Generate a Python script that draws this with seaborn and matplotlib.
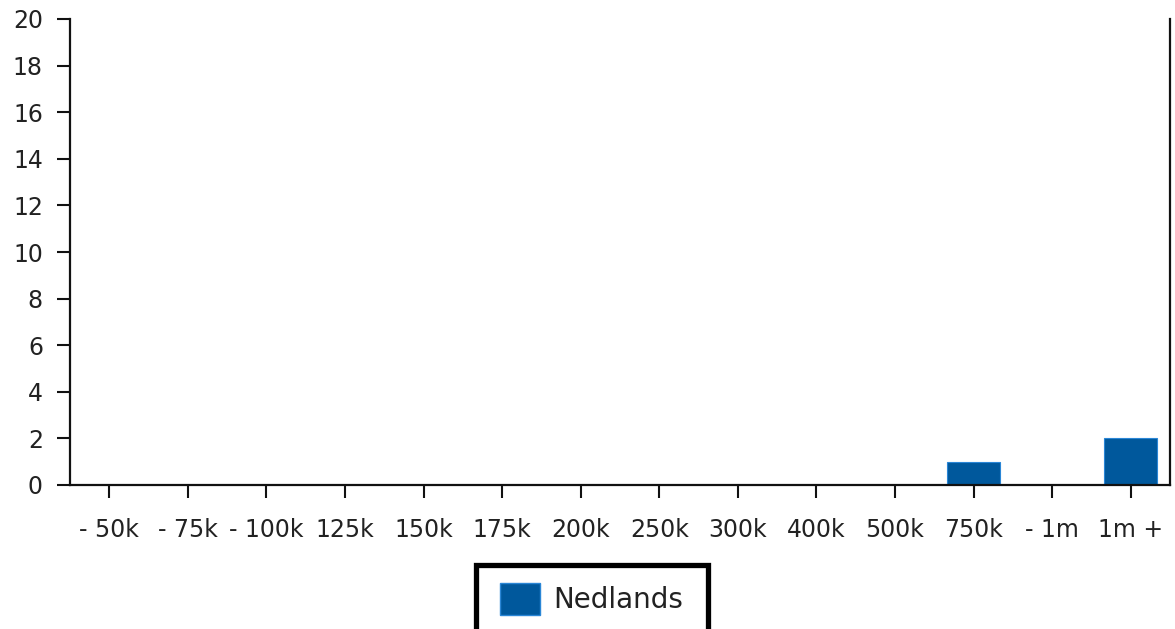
import matplotlib
matplotlib.use("Agg")
import matplotlib.pyplot as plt
import seaborn as sns
import pandas as pd
from matplotlib.patches import Patch, Rectangle

categories = ["- 50k", "- 75k", "- 100k", "125k", "150k", "175k", "200k",
              "250k", "300k", "400k", "500k", "750k", "- 1m", "1m +"]
values = [0, 0, 0, 0, 0, 0, 0, 0, 0, 0, 0, 1, 0, 2]
series_name = "Nedlands"
yticks = [0, 2, 4, 6, 8, 10, 12, 14, 16, 18, 20]

sns.set_theme(style="white")
plt.rcParams['font.family'] = ['DejaVu Sans']

df = pd.DataFrame({"cat": categories, "val": values, "series": series_name})

fig = plt.figure(figsize=(11.75, 6.29), dpi=100)
ax = fig.add_axes([70/1175, 1-485/629, 1100/1175, (485-19)/629])

bar_color = "#00589c"
sns.barplot(data=df, x="cat", y="val", hue="series", order=categories,
            palette=[bar_color], width=0.68, ax=ax, saturation=1,
            edgecolor="#2a86d6", linewidth=0.8, legend=False)

ax.set_xlim(-0.5, len(categories) - 0.5)
ax.set_ylim(0, 20)
ax.set_yticks(yticks)
ax.set_xlabel("")
ax.set_ylabel("")
ax.tick_params(axis="both", direction="out", bottom=True, left=True,
               length=9.5, width=1.5, colors="#111111",
               labelsize=17, labelcolor="#222222")
ax.tick_params(axis="x", pad=14)
ax.tick_params(axis="y", pad=10)
for s in ["left", "bottom", "right"]:
    ax.spines[s].set_visible(True)
    ax.spines[s].set_color("#111111")
    ax.spines[s].set_linewidth(1.6)
ax.spines["top"].set_visible(False)

handles = [Patch(facecolor=bar_color, edgecolor="#2a86d6", label=series_name)]
leg = fig.legend(handles=handles, loc="center left",
                 bbox_to_anchor=(500/1175, 1-599/629),
                 frameon=False, fontsize=20, handlelength=1.44,
                 handleheight=1.44, borderpad=0, handletextpad=0.47,
                 borderaxespad=0)
for t in leg.get_texts():
    t.set_color("#222222")

fig.patches.append(Rectangle((476/1175, -10/629), 232/1175, (629-565+10)/629,
                             transform=fig.transFigure, fill=False,
                             edgecolor="black", linewidth=3.8, figure=fig))

fig.savefig("out.png", dpi=100)
